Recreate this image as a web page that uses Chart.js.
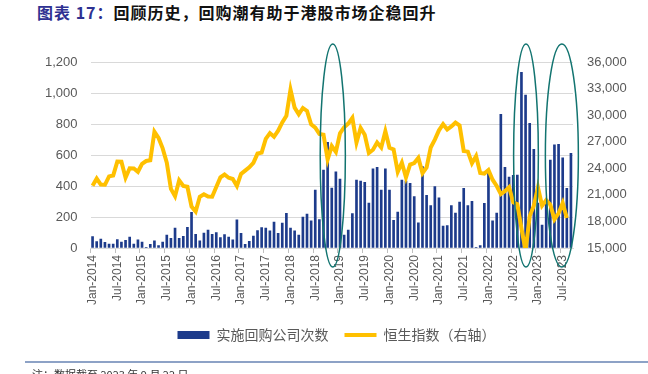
<!DOCTYPE html>
<html lang="zh-CN">
<head>
    <meta charset="UTF-8">
    <title>回购潮与港股</title>
    <script src="https://cdn.jsdelivr.net/npm/chart.js"></script>
    <style>
        body { margin: 0; width: 648px; height: 374px; overflow: hidden; background: #fff; position: relative; font-family: "Noto Sans CJK SC", sans-serif; }
        #title { position: absolute; left: 37px; top: 0px; font-size: 16px; font-weight: bold; color: #111; letter-spacing: 1px; white-space: nowrap; }
        #title span { color: #2e3192; }
        #chartBox { position: absolute; left: 0; top: 0; width: 648px; height: 364px; }
        #rule { position: absolute; left: 25px; right: 0; top: 361px; border-top: 2px solid #8da2c6; }
        #note { position: absolute; left: 32px; top: 366px; font-size: 11px; color: #333; white-space: nowrap; }
    </style>
</head>
<body>
    <div id="title"><span>图表 17：</span>回顾历史，回购潮有助于港股市场企稳回升</div>
    <div id="chartBox"><canvas id="buybackChart"></canvas></div>
    <div id="rule"></div>
    <div id="note">注：数据截至 2023 年 9 月 22 日</div>

    <script>
        // monthly axis, Jan-2014 .. Sep-2023
        const years = [2014, 2015, 2016, 2017, 2018, 2019, 2020, 2021, 2022, 2023];
        const monthNames = ['Jan', 'Feb', 'Mar', 'Apr', 'May', 'Jun', 'Jul', 'Aug', 'Sep', 'Oct', 'Nov', 'Dec'];
        const categories = [];
        for (const y of years) {
            for (const m of monthNames) categories.push(m + '-' + y);
        }
        categories.length = 117;

        // 实施回购公司次数 (left axis)
        const buybackCounts = [
            73, 41, 58, 37, 26, 26, 54, 39, 49, 71, 26, 52,          // 2014
            39, 4, 24, 47, 15, 39, 84, 62, 129, 62, 75, 133,          // 2015
            230, 88, 47, 97, 116, 88, 99, 67, 86, 71, 52, 181,        // 2016
            95, 24, 43, 77, 112, 131, 129, 110, 168, 95, 161, 224,    // 2017
            129, 110, 84, 200, 219, 176, 374, 183, 503, 682, 387, 492,// 2018
            445, 84, 116, 222, 439, 432, 424, 290, 510, 520, 374, 510,// 2019
            374, 179, 232, 439, 432, 417, 331, 163, 525, 340, 273, 396,// 2020
            323, 142, 144, 273, 226, 297, 385, 273, 301, 4, 15, 288,  // 2021
            482, 176, 226, 862, 520, 458, 469, 470, 1133, 987, 804, 637,// 2022
            290, 148, 300, 568, 665, 669, 581, 385, 611               // 2023
        ];

        // 恒生指数 month-end close (right axis)
        const hsiClose = [
            22035, 22837, 22151, 22134, 23082, 23191, 24757, 24742, 22933, 23998, 23987, 23605,
            24507, 24823, 24901, 28133, 27424, 26250, 24636, 21671, 20846, 22640, 21996, 21914,
            19683, 19112, 20777, 21067, 20815, 20794, 21891, 22977, 23297, 22935, 22790, 22001,
            23361, 23741, 24112, 24615, 25661, 25765, 27324, 27970, 27554, 28246, 29177, 29919,
            32887, 30845, 30093, 30808, 30469, 28955, 28583, 27889, 27789, 24980, 26507, 25846,
            27942, 28633, 29051, 29699, 26901, 28543, 27778, 25725, 26092, 26907, 26346, 28190,
            26313, 26130, 23603, 24644, 22961, 24427, 24595, 25177, 23459, 24107, 26341, 27231,
            28284, 28980, 28378, 28725, 29152, 28828, 25961, 25879, 24576, 25377, 23475, 23398,
            23802, 22713, 21997, 21089, 21415, 21860, 20157, 19954, 17223, 14687, 18597, 19781,
            21842, 19786, 20400, 19895, 18234, 18916, 20079, 18382, null
        ];

        // circled periods, in category-index units (left edge, right edge)
        const highlightSpans = [[55.2, 61.3], [102.1, 108.1], [109.8, 117.8]];

        const fontFamily = '"Liberation Sans", "Noto Sans CJK SC", sans-serif';

        const ellipsePlugin = {
            id: 'ellipses',
            afterDatasetsDraw(chart) {
                const ctx = chart.ctx;
                const xScale = chart.scales.x;
                const area = chart.chartArea;
                const top = area.top - 18;
                const bottom = area.bottom + 19;
                ctx.save();
                ctx.strokeStyle = '#127470';
                ctx.lineWidth = 1.5;
                highlightSpans.forEach(function (span) {
                    const left = xScale.getPixelForValue(span[0]);
                    const right = xScale.getPixelForValue(span[1]);
                    ctx.beginPath();
                    ctx.ellipse((left + right) / 2, (top + bottom) / 2, (right - left) / 2, (bottom - top) / 2, 0, 0, Math.PI * 2);
                    ctx.stroke();
                });
                ctx.restore();
            }
        };

        const ctx = document.getElementById('buybackChart').getContext('2d');
        new Chart(ctx, {
            type: 'bar',
            data: {
                labels: categories,
                datasets: [{
                    type: 'bar',
                    label: '实施回购公司次数',
                    data: buybackCounts,
                    backgroundColor: '#1d3b8b',
                    barThickness: 2,
                    yAxisID: 'y',
                    order: 1,
                    pointStyle: 'rect'
                }, {
                    type: 'line',
                    label: '恒生指数（右轴）',
                    data: hsiClose,
                    borderColor: '#ffc000',
                    backgroundColor: '#ffc000',
                    borderWidth: 4,
                    pointRadius: 0,
                    tension: 0,
                    yAxisID: 'y1',
                    order: 0,
                    pointStyle: 'line'
                }]
            },
            options: {
                responsive: true,
                maintainAspectRatio: false,
                animation: false,
                layout: { padding: { left: 25, right: 0, top: 62, bottom: 12 } },
                plugins: {
                    legend: {
                        position: 'bottom',
                        labels: {
                            usePointStyle: true,
                            pointStyleWidth: 32,
                            boxHeight: 8,
                            padding: 16,
                            color: '#595959',
                            font: { size: 14, family: '"Noto Sans CJK SC", sans-serif' },
                            sort: (a, b) => a.datasetIndex - b.datasetIndex
                        }
                    },
                    tooltip: { enabled: false }
                },
                scales: {
                    x: {
                        grid: {
                            offset: true,
                            drawOnChartArea: false,
                            tickLength: 5,
                            color: c => c.index % 6 === 0 ? '#bfbfbf' : 'transparent'
                        },
                        border: { color: '#d9d9d9' },
                        ticks: {
                            autoSkip: false,
                            minRotation: 90,
                            maxRotation: 90,
                            padding: 2,
                            color: '#595959',
                            font: { size: 12, family: fontFamily },
                            callback: (v, i) => i % 6 === 0 ? categories[i] : ''
                        },
                        afterFit: s => { s.height = 64; }
                    },
                    y: {
                        position: 'left',
                        min: 0,
                        max: 1200,
                        ticks: {
                            stepSize: 200,
                            padding: 13,
                            color: '#595959',
                            font: { size: 13, family: fontFamily },
                            callback: v => v.toLocaleString('en-US')
                        },
                        grid: { color: '#d9d9d9', drawTicks: false },
                        border: { display: false },
                        afterFit: s => { s.width = 65.5; }
                    },
                    y1: {
                        position: 'right',
                        min: 15000,
                        max: 36000,
                        ticks: {
                            stepSize: 3000,
                            padding: 14,
                            color: '#595959',
                            font: { size: 13, family: fontFamily },
                            callback: v => v.toLocaleString('en-US')
                        },
                        grid: { drawOnChartArea: false, drawTicks: false },
                        border: { display: false },
                        afterFit: s => { s.width = 75; }
                    }
                }
            },
            plugins: [ellipsePlugin]
        });
    </script>
</body>
</html>
